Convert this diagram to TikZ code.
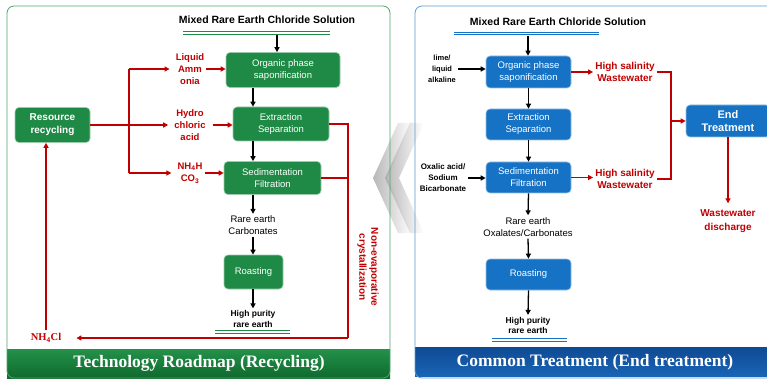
\documentclass[tikz,border=0pt]{standalone}
\usepackage{fontspec}
\setmainfont{Liberation Sans}
\newfontfamily\bannerfont{Liberation Serif}
\usetikzlibrary{arrows.meta}
\definecolor{boxgreen}{HTML}{1F8A45}
\definecolor{panelgreen}{HTML}{4FA56C}
\definecolor{bangreenA}{HTML}{23914A}
\definecolor{bangreenB}{HTML}{0F6A2D}
\definecolor{boxblue}{HTML}{1672C4}
\definecolor{panelblue}{HTML}{5B9BD5}
\definecolor{banblueA}{HTML}{0E4A94}
\definecolor{banblueB}{HTML}{1A64B5}
\definecolor{redc}{HTML}{C00000}
\begin{document}
\begin{tikzpicture}[x=1pt,y=-1pt,
  gbox/.style={draw=white!55!boxgreen,line width=0.6pt,fill=boxgreen,rounded corners=4pt,
    text=white,align=center,font=\fontsize{9.5}{12}\selectfont,inner sep=0pt},
  bbox/.style={gbox,draw=white!55!boxblue,fill=boxblue},
  flow/.style={line width=1.3pt,-{Triangle[length=5pt,width=5pt]}},
  redln/.style={draw=redc,line width=1.6pt},
  redarr/.style={redln,-{Triangle[length=5pt,width=5pt]}},
  redtxt/.style={text=redc,font=\bfseries\fontsize{9.5}{12}\selectfont,align=center,inner sep=2pt},
  txt/.style={align=center,font=\fontsize{9.5}{12}\selectfont,inner sep=2pt},
  smalltxt/.style={align=center,font=\bfseries\fontsize{8}{11}\selectfont,inner sep=2pt},
  headtxt/.style={font=\bfseries\fontsize{10.5}{12}\selectfont,inner sep=1pt},
  dblg/.style={draw=boxgreen,line width=0.8pt,double=white,double distance=1.6pt},
  dblb/.style={dblg,draw=boxblue},
  bantxt/.style={text=white,font=\bannerfont\bfseries\fontsize{17.5}{20}\selectfont}]
\clip (0,0) rectangle (767,379);
%\draw[step=20,gray,very thin] (0,0) grid (767,379);

% gray chevrons between the panels
\foreach \d in {0,12}{
  \shade[left color=gray!70,right color=white,opacity=0.8]
    (373+\d,178) -- (398+\d,123) -- (412+\d,123) -- (387+\d,178)
    -- (412+\d,233) -- (398+\d,233) -- cycle;
}

% left panel
\shade[top color=bangreenA,bottom color=bangreenB] (7,349) rectangle (390,378);
\draw[panelgreen,line width=0.8pt,rounded corners=7pt] (7,6) rectangle (390,378);
\node[bantxt] (banL) at (199,363) {Technology Roadmap (Recycling)};

\node[headtxt] (titleL) at (267,20) {Mixed Rare Earth Chloride Solution};
\coordinate (dlL1) at (183,33);
\coordinate (dlL2) at (330,33);
\draw[dblg] (dlL1) -- (dlL2);
\coordinate (inL) at (277,35);

\node[gbox,minimum width=114,minimum height=35] (sapL) at (283,70) {Organic phase\\saponification};
\node[gbox,minimum width=96,minimum height=34] (extL) at (281,124) {Extraction\\Separation};
\node[gbox,minimum width=97,minimum height=33] (sedL) at (272.5,178) {Sedimentation\\Filtration};
\node[txt] (carbL) at (253,225.5) {Rare earth\\Carbonates};
\node[gbox,minimum width=59,minimum height=34] (roastL) at (253.5,272) {Roasting};
\node[smalltxt,font=\bfseries\fontsize{8.5}{10.5}\selectfont] (hpL) at (253,319) {High purity\\rare earth};
\coordinate (dlL3) at (215,332);
\coordinate (dlL4) at (290,332);
\draw[dblg] (dlL3) -- (dlL4);

\coordinate (axL) at (253,0);
\draw[flow] (inL) -- (inL |- sapL.north);
\draw[flow] (sapL.south -| axL) -- (extL.north -| axL);
\draw[flow] (extL.south -| axL) -- (sedL.north -| axL);
\draw[flow] (sedL.south -| axL) -- (carbL.north);
\draw[flow] (carbL.south) -- (roastL.north -| axL);
\draw[flow] (roastL.south -| axL) -- (hpL.north);

\node[gbox,font=\bfseries\fontsize{10}{13}\selectfont,minimum width=75,minimum height=35] (resL) at (52.5,125) {Resource\\recycling};
\node[redtxt] (ammL) at (190,69) {Liquid\\Amm\\onia};
\node[redtxt] (hclL) at (190,125) {Hydro\\chloric\\acid};
\node[redtxt] (nhL) at (190,173) {NH\textsubscript{4}H\\CO\textsubscript{3}};
\node[text=redc,font=\bannerfont\bfseries\fontsize{10.5}{12}\selectfont,inner sep=3pt] (nhcl) at (46,338) {NH\textsubscript{4}Cl};
\node[redtxt,font=\bfseries\fontsize{10}{12}\selectfont,rotate=-90] (crysL) at (368,267) {Non-evaporative\\crystallization};

\coordinate (jL) at (129,125);
\coordinate (jR) at (348,0);
\draw[redln] (jL) -- (resL.east);
\draw[redln] (jL |- ammL) -- (jL |- nhL);
\draw[redarr,shorten >=4pt] (jL |- ammL) -- (ammL.west);
\draw[redarr,shorten >=4pt] (jL |- hclL) -- (hclL.west);
\draw[redarr,shorten >=4pt] (jL |- nhL) -- (nhL.west);
\draw[redarr] (ammL.east) -- (ammL.east -| sapL.west);
\draw[redarr,shorten <=5pt] (hclL.east) -- (hclL.east -| extL.west);
\draw[redarr] (nhL.east) -- (nhL.east -| sedL.west);
\draw[redln] (jR |- nhcl) -- (jR |- extL.east) -- (extL.east);
\draw[redln] (jR |- sedL.east) -- (sedL.east);
\draw[redarr,shorten >=12pt] (jR |- nhcl) -- (nhcl.east);
\draw[redarr] (nhcl.north) -- (resL.south -| nhcl);

% right panel
\shade[top color=banblueA,bottom color=banblueB] (415,347) rectangle (775,376);
\draw[panelblue,line width=0.8pt,rounded corners=7pt] (415,6) rectangle (775,378);
\node[bantxt] (banR) at (595,362) {Common Treatment (End treatment)};

\node[headtxt] (titleR) at (558,22) {Mixed Rare Earth Chloride Solution};
\coordinate (dlR1) at (454,33.5);
\coordinate (dlR2) at (599,33.5);
\draw[dblb] (dlR1) -- (dlR2);
\coordinate (inR) at (528,36);

\node[bbox,minimum width=85,minimum height=32] (sapR) at (528.5,72) {Organic phase\\saponification};
\node[bbox,minimum width=85,minimum height=31] (extR) at (528.5,124.5) {Extraction\\Separation};
\node[bbox,minimum width=85,minimum height=31] (sedR) at (528.5,177.5) {Sedimentation\\Filtration};
\node[txt] (carbR) at (528,227) {Rare earth\\Oxalates/Carbonates};
\node[bbox,minimum width=85,minimum height=31] (roastR) at (528.5,274.5) {Roasting};
\node[smalltxt,font=\bfseries\fontsize{8.5}{10.5}\selectfont] (hpR) at (528,325.5) {High purity\\rare earth};
\coordinate (dlR3) at (492,340);
\coordinate (dlR4) at (567,340);
\draw[dblb] (dlR3) -- (dlR4);

\node[smalltxt,font=\bfseries\fontsize{7.5}{11}\selectfont] (limeR) at (442,69) {lime/\\liquid\\alkaline};
\node[smalltxt] (oxR) at (443,178) {Oxalic acid/\\Sodium\\Bicarbonate};

\draw[flow] (inR) -- (inR |- sapR.north);
\draw[flow] (sapR.south) -- (extR.north);
\draw[flow] (extR.south) -- (sedR.north);
\draw[flow] (sedR.south) -- (carbR.north);
\draw[flow] (carbR.south) -- (roastR.north);
\draw[flow] (roastR.south) -- (hpR.north);
\draw[flow] (limeR.east) -- (limeR.east -| sapR.west);
\draw[flow] (oxR.east) -- (oxR.east -| sedR.west);

\node[redtxt,font=\bfseries\fontsize{10}{12}\selectfont] (wwA) at (625,72) {High salinity\\Wastewater};
\node[redtxt,font=\bfseries\fontsize{10}{12}\selectfont] (wwB) at (625,179) {High salinity\\Wastewater};
\node[bbox,font=\bfseries\fontsize{11}{13}\selectfont,minimum width=84,minimum height=32] (endR) at (728,121) {End\\Treatment};
\node[redtxt,font=\bfseries\fontsize{10}{14}\selectfont] (disR) at (728,221) {Wastewater\\discharge};

\coordinate (jE) at (671,0);
\draw[redarr] (sapR.east) -- (sapR.east -| wwA.west);
\draw[redarr] (sedR.east) -- (sedR.east -| wwB.west);
\draw[redln] (wwA.east) -- (wwA.east -| jE) -- (wwB.east -| jE) -- (wwB.east);
\draw[redarr] (jE |- endR) -- (endR.west);
\draw[redarr,shorten >=4pt] (endR.south) -- (disR.north);
\end{tikzpicture}
\end{document}
